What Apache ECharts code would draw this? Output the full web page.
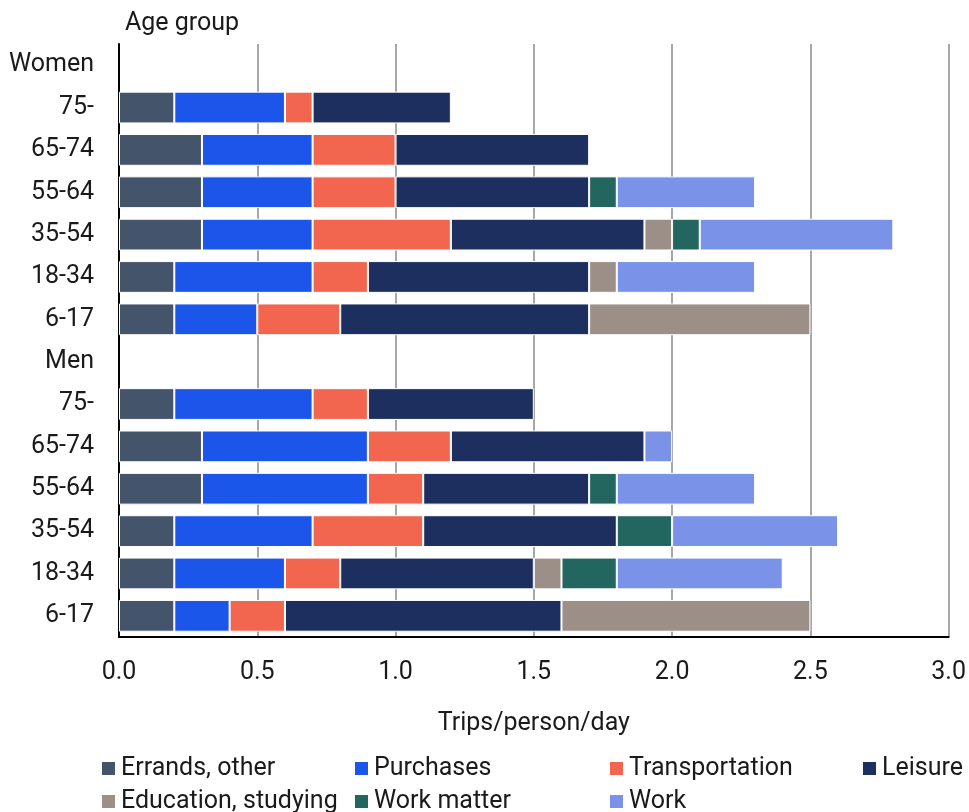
<!DOCTYPE html>
<html>
<head>
<meta charset="utf-8">
<script src="https://cdn.jsdelivr.net/npm/echarts@6/dist/echarts.min.js"></script>
<style>html,body{margin:0;padding:0;background:#fff}#c{width:969px;height:812px}</style>
</head>
<body>
<div id="c"></div>
<script>
const categories = ['Women','75-','65-74','55-64','35-54','18-34','6-17','Men','75-','65-74','55-64','35-54','18-34','6-17'];
const seriesNames = ['Errands, other','Purchases','Transportation','Leisure','Education, studying','Work matter','Work'];
const errands    = ['-',0.2,0.3,0.3,0.3,0.2,0.2,'-',0.2,0.3,0.3,0.2,0.2,0.2];
const purchases  = ['-',0.4,0.4,0.4,0.4,0.5,0.3,'-',0.5,0.6,0.6,0.5,0.4,0.2];
const transport  = ['-',0.1,0.3,0.3,0.5,0.2,0.3,'-',0.2,0.3,0.2,0.4,0.2,0.2];
const leisure    = ['-',0.5,0.7,0.7,0.7,0.8,0.9,'-',0.6,0.7,0.6,0.7,0.7,1.0];
const education  = ['-','-','-','-',0.1,0.1,0.8,'-','-','-','-','-',0.1,0.9];
const workMatter = ['-','-','-',0.1,0.1,'-','-','-','-','-',0.1,0.2,0.2,'-'];
const work       = ['-','-','-',0.5,0.7,0.5,'-','-','-',0.1,0.5,0.6,0.6,'-'];
const xTicks = [0,0.5,1,1.5,2,2.5,3];
const colors = ['#44546a','#1c55e9','#f2664f','#1c2f5e','#9c8f88','#236660','#7a93e8'];
const allData = [errands,purchases,transport,leisure,education,workMatter,work];

const FONT = 'Roboto';
const FS = 25;
const chart = echarts.init(document.getElementById('c'), null, {renderer:'canvas'});
const legendCols = [[0,4],[1,5],[2,6],[3]];
const legendLeft = [100,353,608,861];
chart.setOption({
  animation:false,
  textStyle:{fontFamily:FONT},
  title:{text:'Age group', left:120, top:6, textStyle:{fontFamily:FONT,fontSize:FS,fontWeight:'normal',color:'#1a1a1a'}},
  grid:{left:119,right:18,top:44,bottom:175,containLabel:false},
  legend: legendCols.map((col,i)=>({
    orient:'vertical', left:legendLeft[i], top:754, height:120, padding:0,
    itemWidth:15, itemHeight:15, itemGap:4,
    icon:'rect', selectedMode:false,
    textStyle:{fontFamily:FONT,fontSize:FS,color:'#1a1a1a',lineHeight:29},
    data: col.map(k=>seriesNames[k])
  })),
  xAxis:{
    type:'value', min:xTicks[0], max:xTicks[xTicks.length-1], interval:0.5,
    name:'Trips/person/day', nameLocation:'middle', nameGap:74,
    nameTextStyle:{fontFamily:FONT,fontSize:FS,color:'#1a1a1a'},
    axisLine:{show:true,lineStyle:{color:'#000',width:2}},
    axisTick:{show:false},
    axisLabel:{fontFamily:FONT,fontSize:FS,color:'#1a1a1a',margin:23,formatter:v=>v.toFixed(1)},
    splitLine:{show:true,lineStyle:{color:'#8a8a8a',width:1.5}}
  },
  yAxis:{
    type:'category', inverse:true,
    data: categories.map((c,i)=>i+':'+c),
    axisLine:{show:true,lineStyle:{color:'#000',width:2}},
    axisTick:{show:false},
    axisLabel:{fontFamily:FONT,fontSize:FS,color:'#1a1a1a',margin:25,padding:[5,0,0,0],formatter:(v)=>v.split(':')[1]},
    splitLine:{show:false}
  },
  series: seriesNames.map((n,k)=>({
    name:n, type:'bar', stack:'total', barCategoryGap:'25%',
    data: allData[k],
    itemStyle:{color:colors[k], borderColor:'#fff', borderWidth:1},
    emphasis:{disabled:true}
  }))
});
</script>
</body>
</html>
